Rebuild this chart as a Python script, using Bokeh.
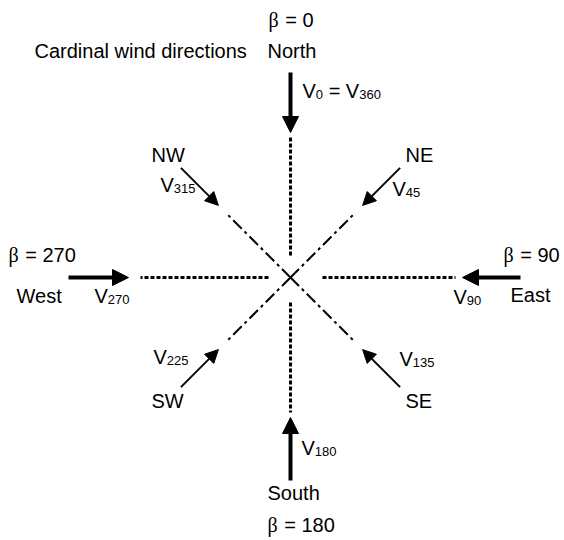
import math
from bokeh.plotting import figure
from bokeh.models import Range1d, Arrow, NormalHead, ColumnDataSource
from bokeh.core.properties import value
from bokeh.embed import file_html
from bokeh.resources import INLINE

# ---------------- data ----------------
title_text = "Cardinal wind directions"
cardinal_names = ["North", "East", "South", "West"]
cardinal_beta = [0, 90, 180, 270]
cardinal_subs = [["0", "360"], ["90"], ["180"], ["270"]]
inter_names = ["NE", "SE", "SW", "NW"]
inter_beta = [45, 135, 225, 315]
inter_subs = [["45"], ["135"], ["225"], ["315"]]

# ---------------- layout (page pixels) ----------------
W, H = 564, 540
CX, CY = 290, 277
card_dot_in = [22, 32, 25, 22]
card_dot_out = [140, 165, 135, 150]
card_tip = [145, 172, 140, 162]
card_tail = [205, 230, 203, 222]
diag_line_out = 90
diag_tip = 102
diag_tail = 155

# label anchors (left x, baseline y)
card_name_pos = [(267, 58), (510, 302), (267, 500), (16, 303)]
card_beta_pos = [(268, 27), (503, 262), (267, 532), (8, 262)]
card_v_pos = [(302, 98), (453, 304), (301, 455), (94, 303)]
inter_name_pos = [(405, 162), (405, 408), (151, 408), (151, 162)]
inter_v_pos = [(392, 196), (399, 366), (153, 364), (160, 192)]
title_pos = (34, 58)
TEXT_DY = -8

FS, SFS = 20, 13
SUB_DY = 4
ADV = {"V": 667, " ": 278, "=": 584}
for d in "0123456789":
    ADV[d] = 556
BETA_ADV = 560


def unit(b):
    r = math.radians(b)
    return math.sin(r), -math.cos(r)


p = figure(width=W, height=H, x_range=Range1d(0, W), y_range=Range1d(H, 0),
           toolbar_location=None, output_backend="svg", min_border=0,
           x_axis_type=None, y_axis_type=None, outline_line_color=None,
           background_fill_color="white", border_fill_color="white")
p.grid.visible = False

# dotted cardinal lines
xs, ys = [], []
for b, ri, ro in zip(cardinal_beta, card_dot_in, card_dot_out):
    ux, uy = unit(b)
    xs.append([CX + ux * ri, CX + ux * ro])
    ys.append([CY + uy * ri, CY + uy * ro])
p.multi_line(xs, ys, line_color="black", line_width=3, line_dash="4 2")

# dash-dot diagonals
xs, ys = [], []
for b in inter_beta:
    ux, uy = unit(b)
    xs.append([CX, CX + ux * diag_line_out])
    ys.append([CY, CY + uy * diag_line_out])
p.multi_line(xs, ys, line_color="black", line_width=2, line_dash="12 4 3 4")


# arrows
def add_arrows(betas, tips, tails, lw, hs):
    d = dict(x_start=[], y_start=[], x_end=[], y_end=[])
    for b, rt, rl in zip(betas, tips, tails):
        ux, uy = unit(b)
        d["x_start"].append(CX + ux * rl)
        d["y_start"].append(CY + uy * rl)
        d["x_end"].append(CX + ux * rt)
        d["y_end"].append(CY + uy * rt)
    src = ColumnDataSource(d)
    p.add_layout(Arrow(source=src, x_start="x_start", y_start="y_start",
                       x_end="x_end", y_end="y_end", line_width=lw, line_color="black",
                       end=NormalHead(size=hs, fill_color="black", line_color="black", line_width=1)))


add_arrows(cardinal_beta, card_tip, card_tail, 4, 16)
add_arrows(inter_beta, [diag_tip] * 4, [diag_tail] * 4, 2, 13)

# text collection
norm = dict(x=[], y=[], t=[])
sub = dict(x=[], y=[], t=[])
beta = dict(x=[], y=[], t=[])


def adv(s, size):
    return sum(ADV.get(c, 556) for c in s) / 1000 * size


def put(store, x, y, s):
    store["x"].append(x); store["y"].append(y + TEXT_DY); store["t"].append(s)


def v_label(x, y, subs):
    put(norm, x, y, "V"); x += adv("V", FS)
    put(sub, x, y + SUB_DY, subs[0]); x += adv(subs[0], SFS)
    if len(subs) > 1:
        x += adv(" ", FS)
        put(norm, x, y, "="); x += adv("= ", FS)
        put(norm, x, y, "V"); x += adv("V", FS)
        put(sub, x, y + SUB_DY, subs[1])


def beta_label(x, y, b):
    put(beta, x, y, "\u03b2")
    x += BETA_ADV / 1000 * FS + adv(" ", FS)
    put(norm, x, y, "= %d" % b)


for name, b, subs, npos, bpos, vpos in zip(cardinal_names, cardinal_beta, cardinal_subs,
                                           card_name_pos, card_beta_pos, card_v_pos):
    put(norm, npos[0], npos[1], name)
    beta_label(bpos[0], bpos[1], b)
    v_label(vpos[0], vpos[1], subs)

for name, subs, npos, vpos in zip(inter_names, inter_subs, inter_name_pos, inter_v_pos):
    put(norm, npos[0], npos[1], name)
    v_label(vpos[0], vpos[1], subs)

put(norm, title_pos[0], title_pos[1], title_text)

common = dict(text_baseline="alphabetic", text_align="left", text_color="black")
p.text(x=norm["x"], y=norm["y"], text=norm["t"], text_font=value("Liberation Sans"),
       text_font_size="%dpx" % FS, **common)
p.text(x=sub["x"], y=sub["y"], text=sub["t"], text_font=value("Liberation Sans"),
       text_font_size="%dpx" % SFS, **common)
p.text(x=beta["x"], y=beta["y"], text=beta["t"], text_font=value("Liberation Serif"),
       text_font_size="%dpx" % FS, **common)

open("out.html", "w").write(file_html(p, INLINE))
